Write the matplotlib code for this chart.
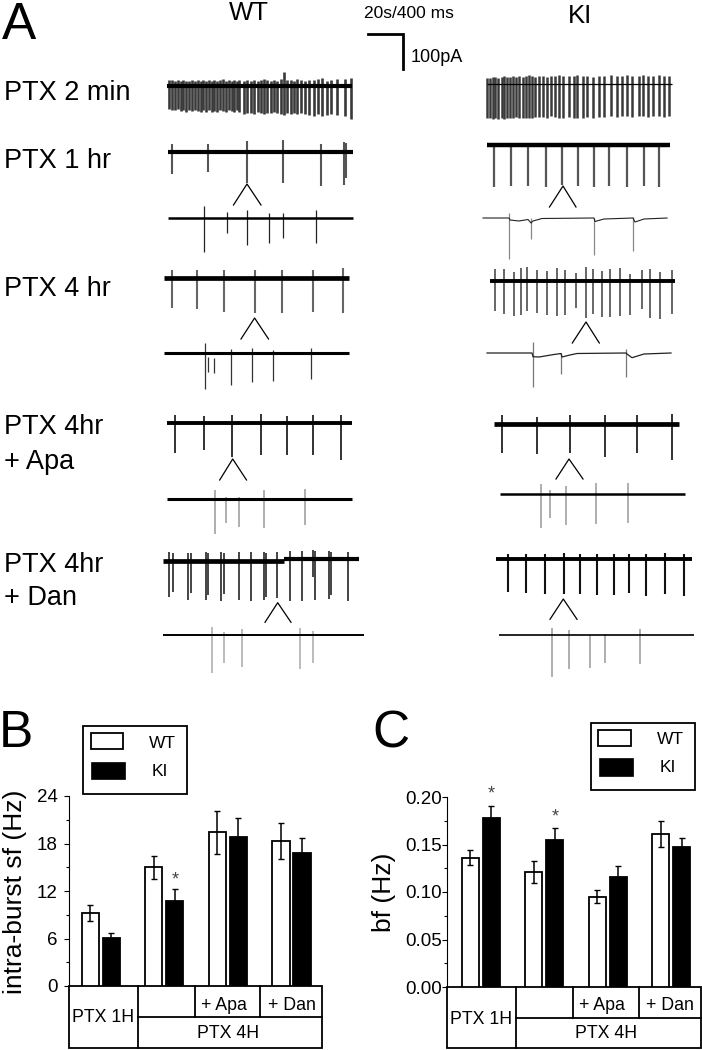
import numpy as np
import matplotlib
matplotlib.use("Agg")
import matplotlib.pyplot as plt
from matplotlib.patches import Rectangle

plt.rcParams['font.family'] = ['Liberation Sans', 'DejaVu Sans']

# ======================
# BAR DATA
# ======================
sf_wt = [9.2, 15.0, 19.4, 18.3]
sf_ki = [6.1, 10.7, 18.8, 16.8]
sf_wt_err = [1.0, 1.45, 2.7, 2.3]
sf_ki_err = [0.6, 1.5, 2.4, 1.9]

bf_wt = [0.136, 0.121, 0.095, 0.161]
bf_ki = [0.178, 0.155, 0.116, 0.147]
bf_wt_err = [0.008, 0.012, 0.007, 0.014]
bf_ki_err = [0.013, 0.012, 0.011, 0.010]

sf_ticks = [0, 6, 12, 18, 24]
bf_ticks = [0.00, 0.05, 0.10, 0.15, 0.20]
bf_labels = ["0.00", "0.05", "0.10", "0.15", "0.20"]

# ======================
# TRACES (image pixels)
# ======================
wt2_x = [169, 171.7, 175, 178.3, 180.7, 183.3, 186, 189.3, 192.3, 195, 197.7, 200.7, 203.3, 206,
         209, 211.7, 214.3, 217.3, 220, 223.3, 226, 229, 231.7, 234, 236.7, 239.3, 244, 247.3,
         250.7, 254, 257.7, 261, 264.3, 267.3, 271, 274, 277.3, 280.7, 284, 287.3, 290.7, 294,
         297.3, 301.3, 304.7, 308.7, 314.3, 317.7, 322, 326.7, 331.3, 336.7, 345, 351]
wt2_bottom = [109, 110, 110, 109, 111, 110, 112, 110, 111, 110, 111, 112, 110, 112,
              110, 112, 111, 112, 110, 111, 112, 110, 111, 112, 110, 112, 114, 113,
              113, 114, 112, 113, 114, 113, 113, 112, 113, 114, 115, 113, 114, 113,
              114, 113, 114, 115, 116, 114, 116, 115, 114, 115, 116, 119]
wt2_top = [80, 80, 81, 80, 81, 80, 81, 81, 80, 81, 80, 81, 80, 81,
           80, 81, 80, 81, 80, 79, 81, 80, 81, 80, 81, 80, 81, 80,
           81, 80, 81, 80, 79, 80, 81, 80, 81, 79, 72, 80, 80, 81,
           79, 80, 81, 80, 80, 79, 78, 81, 80, 79, 79, 78]

ki2_x = [487.3, 490, 492.7, 495.3, 498.3, 501.7, 504, 506.7, 510, 513.3, 516, 519.3, 522.7, 526,
         528.7, 532, 535, 539.3, 543.3, 546.7, 551.3, 554.7, 558.7, 563.3, 569.3, 574, 577.3,
         583.3, 587.3, 592.7, 598.7, 604, 610.7, 617.3, 621.7, 626.7, 631.7, 639.3, 643.3,
         648.3, 653.3, 659.3, 664, 668.7]
ki2_bottom = [118, 118, 119, 118, 119, 118, 119, 118, 118, 118, 117, 118, 118, 118,
              118, 118, 117, 117, 117, 118, 116, 117, 118, 118, 117, 118, 118,
              118, 117, 118, 117, 117, 116, 117, 116, 116, 117, 116, 116,
              117, 116, 116, 117, 116]
ki2_top = [78, 78, 77, 77, 78, 77, 76, 77, 77, 76, 77, 76, 77, 76,
           75, 76, 77, 76, 76, 77, 76, 76, 75, 76, 76, 76, 75,
           76, 76, 77, 76, 76, 75, 76, 76, 75, 76, 76, 75,
           76, 76, 75, 76, 76]

wt1_x = [172, 208, 246.5, 283, 321, 343.6, 345.5]
wt1_top = [144, 144, 141, 140, 144, 142, 143]
wt1_bottom = [174, 172, 183, 183, 186, 185, 178]
wt1e_x = [204, 227, 246.5, 269, 283, 316]
wt1e_top = [206, 212, 210, 213, 213, 210]
wt1e_bottom = [252, 233, 245, 243, 238, 243]

ki1_x = [494, 511, 528, 546, 562, 578, 594, 609, 627, 644, 659]
ki1_bottom = [187, 186, 186, 187, 185, 186, 187, 186, 187, 186, 187]
ki1e_x = [509, 531, 594, 633]
ki1e_top = [213, 218, 218, 217]
ki1e_bottom = [259, 239, 255, 251]
ki1e_base_x = [483, 509, 510, 519, 528, 531, 533, 542, 594, 595, 604, 633, 635, 644, 667]
ki1e_base_y = [218, 218, 220, 221, 219.5, 223, 221, 218.5, 218, 221.5, 219, 218, 222, 219, 218]

wt4_x = [172, 197, 224, 254.6, 282, 313, 343]
wt4_bottom = [308, 309, 312, 313, 313, 312, 313]
wt4_top = [270, 270, 270, 270, 270, 270, 268]
wt4e_x = [205, 207.6, 214.3, 231.3, 252, 273, 310.5]
wt4e_top = [343.3, 356.7, 358.3, 349.3, 348.3, 350, 348.3]
wt4e_bottom = [389.3, 371.7, 372.7, 385.3, 381.7, 381.3, 379.3]

ki4_x = [494.7, 504, 514, 520.7, 527.3, 537.3, 547.3, 557.3, 565.3, 576, 586, 593.3, 602, 610,
         620, 630, 642, 650, 660, 671.7]
ki4_top = [269, 269, 272, 268, 267, 270, 271, 268, 270, 273, 267, 269, 271, 269,
           268, 274, 270, 269, 272, 270]
ki4_bottom = [311, 314, 316, 315, 311, 313, 315, 316, 315, 308, 318, 314, 317, 317,
              316, 315, 309, 318, 319, 314]
ki4e_x = [532.5, 561, 626.4]
ki4e_top = [341.7, 352.7, 349.3]
ki4e_bottom = [386.7, 374.3, 376.7]
ki4e_base_x = [487, 532, 533, 539, 554, 561, 562, 570, 577, 626, 627, 632, 644, 671]
ki4e_base_y = [353, 353, 356.7, 357, 354.5, 353.5, 357, 355, 353.5, 353, 354, 357.7, 354, 353]

wta_x = [175.4, 204, 231.8, 261, 286.8, 312.8, 341]
wta_top = [415, 416, 415, 414, 416, 415, 415]
wta_bottom = [453, 450, 457, 455, 455, 455, 460]
wtae_x = [214.8, 226, 239, 263.5, 304.7]
wtae_top = [490, 497, 497, 490, 489]
wtae_bottom = [534, 523, 527, 528, 525]

kia_x = [502, 536.5, 569.6, 605, 637, 672]
kia_top = [415, 417, 415, 415, 415, 414]
kia_bottom = [453, 454, 453, 457, 453, 460]
kiae_x = [540.5, 550, 566.4, 595.5, 627.7]
kiae_top = [484, 490, 486, 483, 483]
kiae_bottom = [528, 518, 525, 524, 523]

wtd_x = [169, 172.7, 187.7, 190.7, 206, 208.3, 221.3, 224, 239, 251, 264, 266, 277.3, 290,
         301.7, 312.7, 315, 328.7, 331, 348.3]
wtd_top = [552.3, 553.3, 553.3, 553.3, 552.3, 553.3, 552.3, 553.3, 551.7, 552.3, 552.3, 553.3,
           552.3, 551, 551, 550, 551, 551, 551.7, 552.3]
wtd_bottom = [596.7, 591.7, 600, 593.3, 600, 595, 601, 594.3, 600, 600.7, 600, 596.7, 598.3,
              601, 601, 576.7, 600, 599.3, 595, 601]
wtde_x = [211.7, 223.7, 241.7, 300, 312.7]
wtde_top = [626.7, 631.7, 629, 628.3, 631]
wtde_bottom = [673.3, 663.3, 667, 669, 663.3]

kid_x = [507.8, 526, 544.5, 563.8, 580, 597, 614.3, 628.6, 645.6, 665, 683.7]
kid_top = [554, 554, 554, 553.3, 554, 554, 554, 554, 554, 553.3, 554]
kid_bottom = [592.3, 593.3, 594, 594, 594, 595, 595, 593.3, 595.7, 594.3, 595.7]
kide_x = [552, 568.7, 589.7, 605, 639.8]
kide_top = [628.3, 630, 635, 634, 629.3]
kide_bottom = [676.7, 669.3, 668.3, 663.3, 664.3]

# row labels
row_labels = ["PTX 2 min", "PTX 1 hr", "PTX 4 hr", "PTX 4hr", "+ Apa", "PTX 4hr", "+ Dan"]
row_y = [93, 161, 289, 427, 462, 565, 598]

# ======================
# HELPERS
# ======================
def spikes(ax, x, top, bottom, color="#333333", lw=1.0):
    ax.vlines(x, top, bottom, color=color, lw=lw, zorder=2)

def base(ax, x0, x1, y, lw):
    ax.plot([x0, x1], [y, y], color="black", lw=lw, solid_capstyle="butt", zorder=3)

def caret(ax, apex, left, right, y0, y1):
    ax.plot([left, apex, right], [y1, y0, y1], color="black", lw=0.9, zorder=3)

def table(ax, x0, x1, x2, x3, x4, y0, y1, y2):
    ax.add_patch(Rectangle((x0, y0), x4 - x0, y2 - y0, fill=False, ec="black", lw=1.3))
    ax.plot([x1, x1], [y0, y2], color="black", lw=1.3)
    ax.plot([x2, x2], [y0, y1], color="black", lw=1.3)
    ax.plot([x3, x3], [y0, y1], color="black", lw=1.3)
    ax.plot([x1, x4], [y1, y1], color="black", lw=1.3)

def legend(ax, bx, by, bw, bh, wbox, kbox, wtxt, ktxt):
    ax.add_patch(Rectangle((bx, by), bw, bh, fill=False, ec="black", lw=1.3))
    ax.add_patch(Rectangle(wbox[:2], wbox[2], wbox[3], fc="white", ec="black", lw=1.3))
    ax.add_patch(Rectangle(kbox[:2], kbox[2], kbox[3], fc="black", ec="black", lw=0.5))
    ax.text(wtxt[0], wtxt[1], "WT", ha="center", va="center", fontsize=12.5)
    ax.text(ktxt[0], ktxt[1], "KI", ha="center", va="center", fontsize=12.5)

def bars(pos, wt, ki, wt_err, ki_err, xlim, ylim, ticks, minor, pad):
    ax = fig.add_axes([pos[0] / W, 1 - pos[3] / H, (pos[2] - pos[0]) / W, (pos[3] - pos[1]) / H])
    ax.patch.set_alpha(0)
    idx = np.arange(len(wt))
    ax.bar(idx - 0.165, wt, 0.27, color="white", edgecolor="black", lw=1.3)
    ax.bar(idx + 0.165, ki, 0.27, color="black", edgecolor="black", lw=1.3)
    ax.errorbar(idx - 0.165, wt, yerr=wt_err, fmt="none", ecolor="black", elinewidth=1.1, capsize=2.2, capthick=1.0)
    ax.errorbar(idx + 0.165, ki, yerr=ki_err, fmt="none", ecolor="black", elinewidth=1.1, capsize=2.2, capthick=1.0)
    ax.set_xlim(xlim)
    ax.set_ylim(ylim)
    ax.set_xticks([])
    ax.set_yticks(ticks)
    ax.set_yticks(minor, minor=True)
    ax.tick_params(axis="y", which="major", length=3.5, width=0.8, labelsize=13.5, pad=pad)
    ax.tick_params(axis="y", which="minor", length=2, width=0.8)
    for s in ["top", "right", "bottom"]:
        ax.spines[s].set_visible(False)
    return ax, idx

# ======================
# FIGURE
# ======================
W, H = 702, 1050
fig = plt.figure(figsize=(W / 100, H / 100), dpi=100)
px = fig.add_axes([0, 0, 1, 1])
px.set_xlim(0, W)
px.set_ylim(H, 0)
px.axis("off")

# panel letters and headers
px.text(2, 39, "A", fontsize=37, va="baseline")
px.text(-1, 747, "B", fontsize=37, va="baseline")
px.text(372, 748, "C", fontsize=37, va="baseline")
px.text(249, 20, "WT", fontsize=18.5, ha="center", va="baseline")
px.text(580, 23, "KI", fontsize=18.5, ha="center", va="baseline")
px.text(409, 14, "20s/400 ms", fontsize=12.5, ha="center", va="center")
px.text(411, 57, "100pA", fontsize=13, va="center")
px.plot([368, 403, 403], [34, 34, 69], color="black", lw=2, solid_joinstyle="miter")

for label, y in zip(row_labels, row_y):
    px.text(4, y, label, fontsize=19.5, va="center")

# row 1: PTX 2 min
spikes(px, wt2_x, wt2_top, wt2_bottom, color="#3a3a3a", lw=1.9)
base(px, 167, 352, 86, 3)
spikes(px, ki2_x, ki2_top, ki2_bottom, color="#3a3a3a", lw=1.8)
base(px, 487, 672, 84, 0.9)

# row 2: PTX 1 hr
spikes(px, wt1_x, wt1_top, wt1_bottom, color="#555555", lw=1.5)
base(px, 168, 353, 152, 3)
caret(px, 247, 233.5, 261, 184, 205)
spikes(px, wt1e_x, wt1e_top, wt1e_bottom, color="#222222", lw=0.9)
base(px, 168, 353, 218, 1.8)
spikes(px, ki1_x, [145] * len(ki1_x), ki1_bottom, color="#555555", lw=1.6)
base(px, 487, 670, 145, 3.2)
caret(px, 563, 549.5, 576, 186, 207)
spikes(px, ki1e_x, ki1e_top, ki1e_bottom, color="#888888", lw=0.9)
px.plot(ki1e_base_x, ki1e_base_y, color="#222222", lw=0.8)

# row 3: PTX 4 hr
spikes(px, wt4_x, wt4_top, wt4_bottom, color="#666666", lw=1.5)
base(px, 164, 349, 278, 3.4)
caret(px, 254.6, 241, 268.5, 318, 339)
spikes(px, wt4e_x, wt4e_top, wt4e_bottom, color="#333333", lw=0.9)
base(px, 164, 349, 353, 2.2)
spikes(px, ki4_x, ki4_top, ki4_bottom, color="#666666", lw=1.4)
base(px, 490, 675, 281, 2.8)
caret(px, 586, 572.3, 599.3, 322, 343)
spikes(px, ki4e_x, ki4e_top, ki4e_bottom, color="#777777", lw=0.9)
px.plot(ki4e_base_x, ki4e_base_y, color="#222222", lw=0.9)

# row 4: PTX 4hr + Apa
spikes(px, wta_x, wta_top, wta_bottom, color="#222222", lw=1.3)
base(px, 167, 352, 423, 2.8)
caret(px, 232.7, 219.7, 246.5, 459, 480)
spikes(px, wtae_x, wtae_top, wtae_bottom, color="#999999", lw=1.1)
base(px, 167, 352, 499, 2.2)
spikes(px, kia_x, kia_top, kia_bottom, color="#222222", lw=1.3)
base(px, 493.5, 678.7, 424, 3.4)
caret(px, 569, 556, 583, 459, 479)
spikes(px, kiae_x, kiae_top, kiae_bottom, color="#999999", lw=1.1)
base(px, 500, 684.6, 494, 1.8)

# row 5: PTX 4hr + Dan
spikes(px, wtd_x, wtd_top, wtd_bottom, color="#444444", lw=1.4)
base(px, 163.3, 284.3, 560.5, 3.4)
base(px, 284.3, 359, 559, 3)
caret(px, 277.7, 265, 291, 602.7, 622.3)
spikes(px, wtde_x, wtde_top, wtde_bottom, color="#aaaaaa", lw=1.1)
base(px, 163, 364, 635, 1.4)
spikes(px, kid_x, kid_top, kid_bottom, color="#111111", lw=1.5)
base(px, 495.7, 691.7, 559, 2.8)
caret(px, 563.3, 550, 577, 599, 619.3)
spikes(px, kide_x, kide_top, kide_bottom, color="#999999", lw=1.1)
base(px, 499.3, 694.4, 635, 1.2)

# ======================
# PANEL B
# ======================
ax_b, idx_b = bars((69, 796, 322, 986), sf_wt, sf_ki, sf_wt_err, sf_ki_err,
                   (-0.5, 3.48), (0, 24), sf_ticks, [3, 9, 15, 21], 4.7)
ax_b.text(idx_b[1] + 0.165, sf_ki[1] + sf_ki_err[1] + 1.2, "*", ha="center", va="center",
          fontsize=13, color="#444444")
px.text(15, 892, "intra-burst sf (Hz)", rotation=90, fontsize=19, ha="center", va="center")
table(px, 69, 138, 194.7, 260.3, 322, 986, 1017.3, 1047.7)
px.text(103, 1018, "PTX 1H", fontsize=12.8, ha="center", va="center")
px.text(224, 1005, "+ Apa", fontsize=12.8, ha="center", va="center")
px.text(292, 1005, "+ Dan", fontsize=12.8, ha="center", va="center")
px.text(228, 1033, "PTX 4H", fontsize=12.8, ha="center", va="center")
legend(px, 83, 726, 104, 68, (91, 733, 32, 16), (91, 762, 34, 17), (162, 743), (160, 771))

# ======================
# PANEL C
# ======================
ax_c, idx_c = bars((447, 797, 701, 987), bf_wt, bf_ki, bf_wt_err, bf_ki_err,
                   (-0.535, 3.47), (0, 0.2), bf_ticks, [0.025, 0.075, 0.125, 0.175], 0.3)
ax_c.set_yticklabels(bf_labels)
for i in [0, 1]:
    ax_c.text(idx_c[i] + 0.165, bf_ki[i] + bf_ki_err[i] + 0.012, "*", ha="center", va="center",
              fontsize=13, color="#444444", clip_on=False)
px.text(384, 892, "bf (Hz)", rotation=90, fontsize=19, ha="center", va="center")
table(px, 447, 516.3, 572.7, 638.7, 701, 987, 1018.3, 1048.3)
px.text(481, 1020, "PTX 1H", fontsize=12.8, ha="center", va="center")
px.text(602, 1005, "+ Apa", fontsize=12.8, ha="center", va="center")
px.text(670, 1005, "+ Dan", fontsize=12.8, ha="center", va="center")
px.text(606, 1034, "PTX 4H", fontsize=12.8, ha="center", va="center")
legend(px, 591, 723, 104, 67, (598, 730, 33, 16), (599, 758, 34, 18), (670, 740), (668, 768))

fig.savefig("out.png", dpi=100)
